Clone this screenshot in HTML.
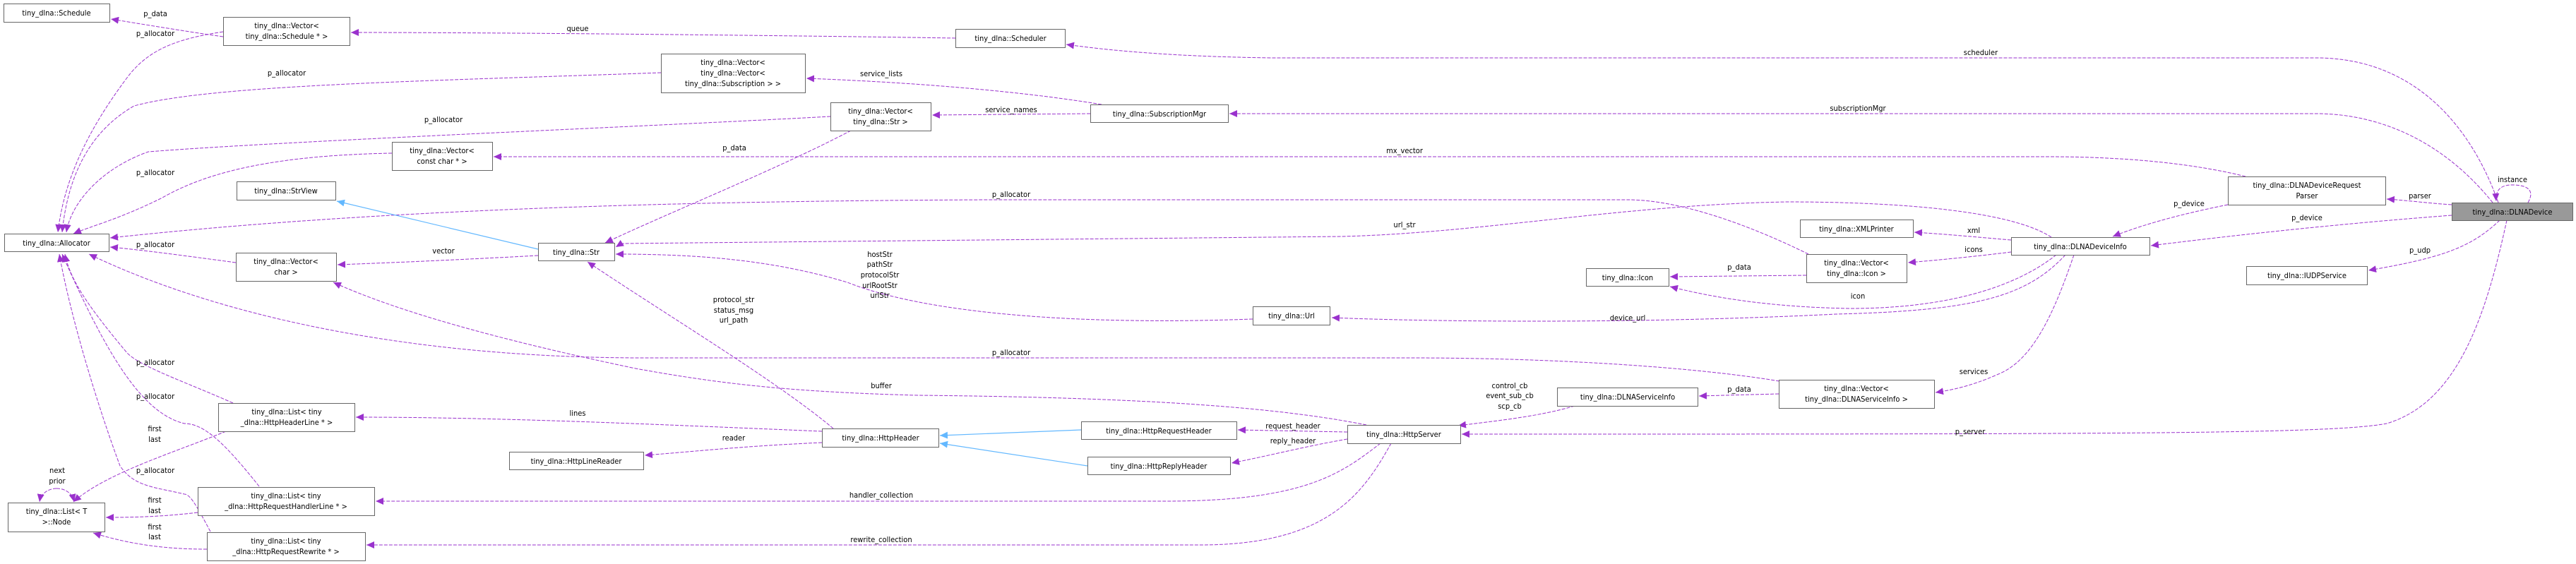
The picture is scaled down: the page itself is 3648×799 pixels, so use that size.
<!DOCTYPE html>
<html><head><meta charset="utf-8"><style>
html,body{margin:0;padding:0;background:#fff;}
svg{display:block;}
text{font-family:"DejaVu Sans Condensed","DejaVu Sans","Liberation Sans",sans-serif;font-size:11px;fill:#000;}
.e{fill:none;stroke:#9a32cd;stroke-width:1;stroke-dasharray:5,2;}
.i{fill:none;stroke:#63b8ff;stroke-width:1.2;}
.n{fill:#fff;stroke:#666;stroke-width:1;}
</style></head><body>
<svg width="3648" height="799" viewBox="0 0 3648 799" xmlns="http://www.w3.org/2000/svg">
<defs>
<marker id="a" markerUnits="userSpaceOnUse" markerWidth="12" markerHeight="10" refX="11" refY="5" orient="auto"><path d="M0,0 L11,5 L0,10 z" fill="#9a32cd"/></marker>
<marker id="b" markerUnits="userSpaceOnUse" markerWidth="12" markerHeight="10" refX="11" refY="5" orient="auto"><path d="M0,0 L11,5 L0,10 z" fill="#63b8ff"/></marker>
</defs>

<!-- edges -->
<g class="edges">
<path class="e" marker-end="url(#a)" d="M316,52 C260,44 200,34 157,27"/>
<path class="e" marker-end="url(#a)" d="M1353,54 C1100,50 700,46 497,46"/>
<path class="e" marker-end="url(#a)" d="M3538,287 C3500,180 3420,82 3280,82 L1800,82 C1650,80 1560,70 1510,63"/>
<path class="e" marker-end="url(#a)" d="M3530,287 C3460,200 3370,161 3280,161 L1741,161"/>
<path class="e" marker-end="url(#a)" d="M1560,148 C1420,125 1250,115 1142,111"/>
<path class="e" marker-end="url(#a)" d="M1544,161 L1320,163"/>
<path class="e" marker-end="url(#a)" d="M316,45 C250,55 210,70 180,110 C120,190 90,260 82,329"/>
<path class="e" marker-end="url(#a)" d="M936,103 C600,115 300,120 190,150 C120,190 95,260 88,329"/>
<path class="e" marker-end="url(#a)" d="M1176,165 C900,180 400,200 210,215 C140,240 100,290 94,329"/>
<path class="e" marker-end="url(#a)" d="M555,217 C400,220 300,240 230,280 C170,310 130,320 104,331"/>
<path class="e" marker-end="url(#a)" d="M2561,360 C2480,320 2380,283 2305,283 L1400,283 C900,285 500,300 156,337"/>
<path class="e" marker-end="url(#a)" d="M334,372 C260,362 200,354 156,350"/>
<path class="e" marker-end="url(#a)" d="M2520,540 C2400,520 2200,507 2000,507 L900,507 C500,505 250,420 126,360"/>
<path class="e" marker-end="url(#a)" d="M330,571 C260,540 200,520 180,500 C130,440 100,400 92,360"/>
<path class="e" marker-end="url(#a)" d="M367,689 C320,630 290,600 261,600 C200,585 150,500 88,360"/>
<path class="e" marker-end="url(#a)" d="M298,753 C280,720 270,700 261,700 C220,690 190,690 170,660 C140,580 100,450 84,360"/>
<path class="i" marker-end="url(#b)" d="M762,353 L477,285"/>
<path class="e" marker-end="url(#a)" d="M762,362 C650,368 560,372 478,375"/>
<path class="e" marker-end="url(#a)" d="M1205,185 C1100,240 950,300 857,344"/>
<path class="e" marker-end="url(#a)" d="M2905,336 C2850,300 2700,286 2530,286 C2300,290 2100,330 1900,335 L880,345 L872,350"/>
<path class="e" marker-end="url(#a)" d="M1774,452 C1500,462 1300,440 1200,400 C1100,370 1000,360 872,360"/>
<path class="e" marker-end="url(#a)" d="M1180,607 C1100,540 950,450 832,371"/>
<path class="e" marker-end="url(#a)" d="M1935,602 C1800,575 1600,563 1300,560 C1100,555 1000,540 900,522 C700,480 560,440 472,400"/>
<path class="e" marker-end="url(#a)" d="M1164,611 C900,600 700,591 504,591"/>
<path class="e" marker-end="url(#a)" d="M1164,627 C1050,632 980,640 913,645"/>
<path class="i" marker-end="url(#b)" d="M1531,609 L1331,617"/>
<path class="i" marker-end="url(#b)" d="M1540,660 L1331,628"/>
<path class="e" marker-end="url(#a)" d="M1908,612 L1753,609"/>
<path class="e" marker-end="url(#a)" d="M1908,622 C1850,632 1800,645 1744,656"/>
<path class="e" marker-end="url(#a)" d="M1955,628 C1900,670 1850,710 1650,710 L532,710"/>
<path class="e" marker-end="url(#a)" d="M1970,628 C1930,700 1880,772 1700,772 L519,772"/>
<path class="e" marker-end="url(#a)" d="M320,611 C250,640 150,670 104,711"/>
<path class="e" marker-end="url(#a)" d="M280,726 C230,732 190,733 150,733"/>
<path class="e" marker-end="url(#a)" d="M293,778 C230,778 180,770 132,755"/>
<path class="e" marker-end="url(#a)" d="M80,692 C70,692 58,698 56,711"/>
<path class="e" marker-end="url(#a)" d="M80,692 C92,692 102,698 105,711"/>
<path class="e" marker-end="url(#a)" d="M2230,575 C2180,590 2120,596 2065,603"/>
<path class="e" marker-end="url(#a)" d="M2519,558 L2406,561"/>
<path class="e" marker-end="url(#a)" d="M2937,361 C2910,440 2880,510 2830,530 C2790,548 2760,553 2741,556"/>
<path class="e" marker-end="url(#a)" d="M2558,390 L2365,392"/>
<path class="e" marker-end="url(#a)" d="M2912,361 C2850,410 2750,437 2620,437 C2500,435 2420,420 2365,406"/>
<path class="e" marker-end="url(#a)" d="M2925,361 C2870,420 2800,440 2600,445 C2300,460 2000,455 1886,450"/>
<path class="e" marker-end="url(#a)" d="M2848,340 C2800,336 2760,332 2711,329"/>
<path class="e" marker-end="url(#a)" d="M2848,357 C2800,363 2750,368 2702,372"/>
<path class="e" marker-end="url(#a)" d="M3155,290 C3080,305 3030,320 2992,335"/>
<path class="e" marker-end="url(#a)" d="M3472,305 C3300,318 3150,335 3046,348"/>
<path class="e" marker-end="url(#a)" d="M3472,290 C3440,288 3410,284 3380,282"/>
<path class="e" marker-end="url(#a)" d="M3540,312 C3500,350 3460,365 3354,383"/>
<path class="e" marker-end="url(#a)" d="M3550,312 C3520,450 3480,570 3380,600 C3300,615 3000,615 2070,615"/>
<path class="e" marker-end="url(#a)" d="M3580,287 C3590,270 3580,262 3558,262 C3540,262 3534,270 3535,285"/>
<path class="e" marker-end="url(#a)" d="M3180,250 C3100,230 3000,222 2900,222 L699,222"/>
</g>

<!-- edge labels -->
<g text-anchor="middle">
<text x="220" y="23">p_data</text>
<text x="818" y="44">queue</text>
<text x="2805" y="78">scheduler</text>
<text x="2631" y="157">subscriptionMgr</text>
<text x="1248" y="108">service_lists</text>
<text x="1432" y="159">service_names</text>
<text x="220" y="51">p_allocator</text>
<text x="406" y="107">p_allocator</text>
<text x="628" y="173">p_allocator</text>
<text x="220" y="248">p_allocator</text>
<text x="1432" y="279">p_allocator</text>
<text x="220" y="350">p_allocator</text>
<text x="1432" y="503">p_allocator</text>
<text x="220" y="517">p_allocator</text>
<text x="220" y="565">p_allocator</text>
<text x="220" y="670">p_allocator</text>
<text x="628" y="359">vector</text>
<text x="1040" y="213">p_data</text>
<text x="1989" y="322">url_str</text>
<text x="1989" y="217">mx_vector</text>
<text x="1246" y="364">hostStr</text>
<text x="1246" y="378">pathStr</text>
<text x="1246" y="393">protocolStr</text>
<text x="1246" y="408">urlRootStr</text>
<text x="1246" y="422">urlStr</text>
<text x="1039" y="428">protocol_str</text>
<text x="1039" y="443">status_msg</text>
<text x="1039" y="457">url_path</text>
<text x="1248" y="550">buffer</text>
<text x="818" y="589">lines</text>
<text x="1039" y="624">reader</text>
<text x="1831" y="607">request_header</text>
<text x="1831" y="628">reply_header</text>
<text x="1248" y="705">handler_collection</text>
<text x="1248" y="768">rewrite_collection</text>
<text x="219" y="611">first</text>
<text x="219" y="626">last</text>
<text x="219" y="712">first</text>
<text x="219" y="727">last</text>
<text x="219" y="750">first</text>
<text x="219" y="764">last</text>
<text x="81" y="670">next</text>
<text x="81" y="685">prior</text>
<text x="2138" y="550">control_cb</text>
<text x="2138" y="564">event_sub_cb</text>
<text x="2138" y="579">scp_cb</text>
<text x="2463" y="555">p_data</text>
<text x="2795" y="530">services</text>
<text x="2463" y="382">p_data</text>
<text x="2631" y="423">icon</text>
<text x="2305" y="454">device_url</text>
<text x="2795" y="330">xml</text>
<text x="2795" y="357">icons</text>
<text x="3100" y="292">p_device</text>
<text x="3267" y="312">p_device</text>
<text x="3427" y="281">parser</text>
<text x="3427" y="358">p_udp</text>
<text x="2790" y="615">p_server</text>
<text x="3558" y="258">instance</text>
</g>

<!-- nodes -->
<g text-anchor="middle">
<rect class="n" x="5.5" y="5.5" width="150" height="26"/><text x="80" y="22">tiny_dlna::Schedule</text>
<rect class="n" x="316.5" y="24.5" width="179" height="40"/><text x="406" y="40">tiny_dlna::Vector&lt;</text><text x="406" y="55">tiny_dlna::Schedule * &gt;</text>
<rect class="n" x="6.5" y="331.5" width="148" height="25"/><text x="80" y="348">tiny_dlna::Allocator</text>
<rect class="n" x="555.5" y="201.5" width="142" height="40"/><text x="626" y="217">tiny_dlna::Vector&lt;</text><text x="626" y="232">const char * &gt;</text>
<rect class="n" x="335.5" y="257.5" width="140" height="26"/><text x="405" y="274">tiny_dlna::StrView</text>
<rect class="n" x="762.5" y="344.5" width="108" height="25"/><text x="816" y="361">tiny_dlna::Str</text>
<rect class="n" x="334.5" y="358.5" width="142" height="40"/><text x="405" y="374">tiny_dlna::Vector&lt;</text><text x="405" y="389">char &gt;</text>
<rect class="n" x="309.5" y="571.5" width="193" height="40"/><text x="406" y="587">tiny_dlna::List&lt; tiny</text><text x="406" y="602">_dlna::HttpHeaderLine * &gt;</text>
<rect class="n" x="721.5" y="640.5" width="190" height="25"/><text x="816" y="657">tiny_dlna::HttpLineReader</text>
<rect class="n" x="280.5" y="690.5" width="250" height="40"/><text x="405" y="706">tiny_dlna::List&lt; tiny</text><text x="405" y="721">_dlna::HttpRequestHandlerLine * &gt;</text>
<rect class="n" x="293.5" y="754.5" width="224" height="40"/><text x="405" y="770">tiny_dlna::List&lt; tiny</text><text x="405" y="785">_dlna::HttpRequestRewrite * &gt;</text>
<rect class="n" x="11.5" y="712.5" width="137" height="41"/><text x="80" y="728">tiny_dlna::List&lt; T</text><text x="80" y="743">&gt;::Node</text>
<rect class="n" x="1353.5" y="41.5" width="155" height="26"/><text x="1431" y="58">tiny_dlna::Scheduler</text>
<rect class="n" x="936.5" y="76.5" width="204" height="55"/><text x="1038" y="92">tiny_dlna::Vector&lt;</text><text x="1038" y="107">tiny_dlna::Vector&lt;</text><text x="1038" y="122">tiny_dlna::Subscription &gt; &gt;</text>
<rect class="n" x="1176.5" y="145.5" width="142" height="40"/><text x="1247" y="161">tiny_dlna::Vector&lt;</text><text x="1247" y="176">tiny_dlna::Str &gt;</text>
<rect class="n" x="1544.5" y="148.5" width="195" height="25"/><text x="1642" y="165">tiny_dlna::SubscriptionMgr</text>
<rect class="n" x="1774.5" y="434.5" width="109" height="26"/><text x="1829" y="451">tiny_dlna::Url</text>
<rect class="n" x="1164.5" y="607.5" width="165" height="26"/><text x="1247" y="624">tiny_dlna::HttpHeader</text>
<rect class="n" x="1531.5" y="597.5" width="220" height="25"/><text x="1641" y="614">tiny_dlna::HttpRequestHeader</text>
<rect class="n" x="1540.5" y="647.5" width="202" height="25"/><text x="1641" y="664">tiny_dlna::HttpReplyHeader</text>
<rect class="n" x="2549.5" y="311.5" width="160" height="25"/><text x="2629" y="328">tiny_dlna::XMLPrinter</text>
<rect class="n" x="2558.5" y="360.5" width="142" height="40"/><text x="2629" y="376">tiny_dlna::Vector&lt;</text><text x="2629" y="391">tiny_dlna::Icon &gt;</text>
<rect class="n" x="2246.5" y="380.5" width="117" height="25"/><text x="2305" y="397">tiny_dlna::Icon</text>
<rect class="n" x="2205.5" y="549.5" width="199" height="26"/><text x="2305" y="566">tiny_dlna::DLNAServiceInfo</text>
<rect class="n" x="2519.5" y="538.5" width="220" height="40"/><text x="2629" y="554">tiny_dlna::Vector&lt;</text><text x="2629" y="569">tiny_dlna::DLNAServiceInfo &gt;</text>
<rect class="n" x="1908.5" y="602.5" width="160" height="26"/><text x="1988" y="619">tiny_dlna::HttpServer</text>
<rect class="n" x="3155.5" y="250.5" width="223" height="40"/><text x="3267" y="266">tiny_dlna::DLNADeviceRequest</text><text x="3267" y="281">Parser</text>
<rect x="3472.5" y="287.5" width="171" height="25" fill="#999" stroke="#666"/><text x="3558" y="304">tiny_dlna::DLNADevice</text>
<rect class="n" x="2848.5" y="336.5" width="196" height="25"/><text x="2946" y="353">tiny_dlna::DLNADeviceInfo</text>
<rect class="n" x="3181.5" y="377.5" width="171" height="26"/><text x="3267" y="394">tiny_dlna::IUDPService</text>
</g>
</svg>
</body></html>
